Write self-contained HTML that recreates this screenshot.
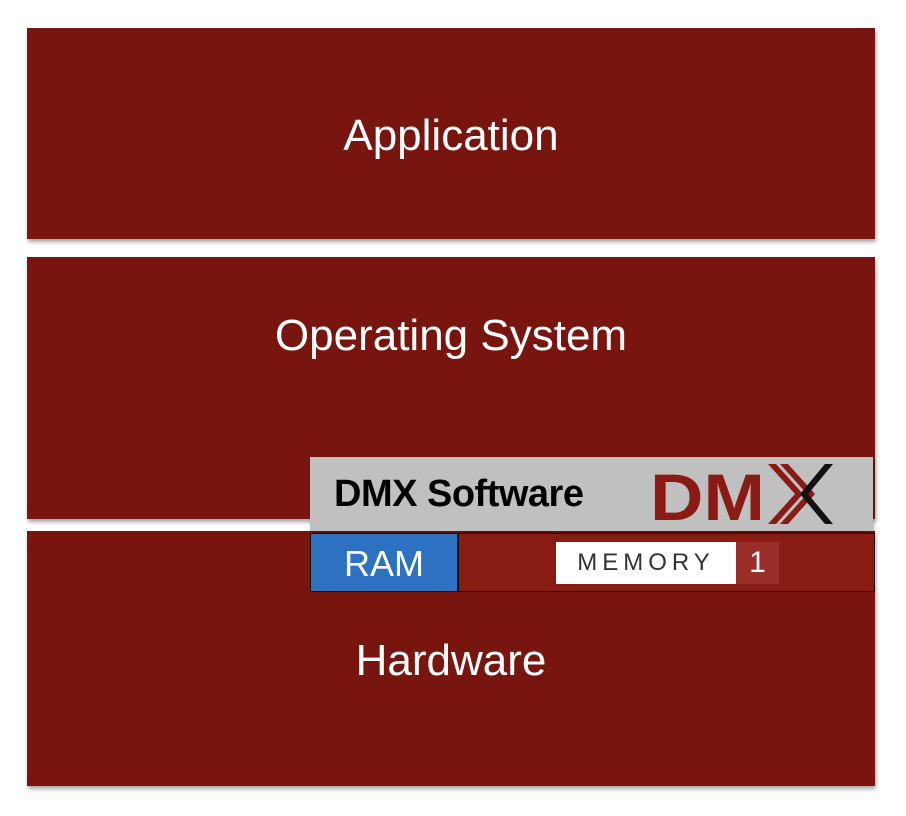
<!DOCTYPE html>
<html><head><style>
body{margin:0;width:906px;height:816px;background:#fff;position:relative;overflow:hidden;font-family:"Liberation Sans",sans-serif}
.b{position:absolute;left:27px;width:848px;background:#79150f;box-shadow:1px 3px 4px rgba(0,0,0,.35);color:#fff;font-size:44px;text-align:center}
</style></head><body>
<div class="b" style="top:28px;height:211px"><div style="margin-top:83px">Application</div></div>
<div class="b" style="top:257px;height:262px"><div style="margin-top:54px">Operating System</div></div>
<div class="b" style="top:531px;height:255px"><div style="position:absolute;left:0;right:0;top:105px">Hardware</div></div>
<div style="position:absolute;left:310px;top:457px;width:563px;height:74px;background:#c0c0c0;box-shadow:1px 2px 3px rgba(0,0,0,.3)">
<div style="position:absolute;left:24px;top:16px;font-size:38px;font-weight:bold;color:#000;letter-spacing:-0.5px">DMX Software</div>
<svg style="position:absolute;left:340px;top:5px" width="190" height="66" viewBox="0 0 190 66">
<text x="0" y="58" font-family="Liberation Sans" font-weight="bold" font-size="66" fill="#8a1a14" textLength="115" lengthAdjust="spacingAndGlyphs">DM</text>
<polygon points="118,2 126,2 153,32 126,62 118,62 145,32" fill="#8a1a14"/>
<polygon points="130,2 138,2 165,32 138,62 130,62 157,32" fill="#8a1a14"/>
<polygon points="175,2 183,2 158,32 183,62 175,62 150,32" fill="#111"/>
</svg>
</div>
<div style="position:absolute;left:310px;top:533px;width:563px;height:57px;border:1px solid #111;background:#861c12">
<div style="position:absolute;left:0;top:0;width:146px;height:57px;background:#2c72c0;border-right:2px solid #111;color:#fff;font-size:36px;text-align:center;line-height:60px">RAM</div>
<div style="position:absolute;left:245px;top:8px;width:180px;height:42px;background:#fff;color:#333;font-size:24px;letter-spacing:5px;text-align:center;line-height:42px">MEMORY</div>
<div style="position:absolute;left:425px;top:8px;width:43px;height:42px;background:#9a2e2a;color:#fff;font-size:30px;text-align:center;line-height:42px">1</div>
</div>
</body></html>
